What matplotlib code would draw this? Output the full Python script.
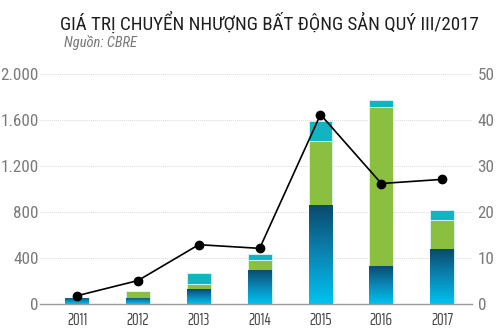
import matplotlib
matplotlib.use("Agg")
import matplotlib.pyplot as plt
import numpy as np
from matplotlib.colors import LinearSegmentedColormap

years = ["2011", "2012", "2013", "2014", "2015", "2016", "2017"]
blue_vals = [55, 55, 130, 298, 858, 333, 475]
green_vals = [0, 55, 44, 85, 559, 1377, 255]
cyan_vals = [0, 0, 93, 49, 174, 64, 87]
line_vals = [1.8, 5.1, 12.9, 12.1, 41.2, 26.2, 27.1]
left_ticks = [0, 400, 800, 1200, 1600, 2000]
left_labels = ["0", "400", "800", "1.200", "1.600", "2.000"]
right_ticks = [0, 10, 20, 30, 40, 50]
right_labels = ["0", "10", "20", "30", "40", "50"]

FONT = ["Roboto Condensed", "DejaVu Sans"]
XFONT = ["Saira ExtraCondensed", "Roboto Condensed", "DejaVu Sans"]
plt.rcParams['font.family'] = FONT

fig = plt.figure(figsize=(5.0, 3.32), dpi=100)
ax = fig.add_axes([0.08, 0.0843, 0.864, 0.6927])
x = np.arange(len(years))
w = 0.39

green_c = "#8bbf3f"
cyan_c = "#12b4bf"
edge_c = "#dff5fa"

bars_b = ax.bar(x, blue_vals, w, color="#0a8fc0", edgecolor=edge_c, linewidth=0.6, zorder=2)
bottom2 = np.array(blue_vals)
ax.bar(x, green_vals, w, bottom=bottom2, color=green_c, edgecolor=edge_c, linewidth=0.6, zorder=2)
bottom3 = bottom2 + np.array(green_vals)
ax.bar(x, cyan_vals, w, bottom=bottom3, color=cyan_c, edgecolor=edge_c, linewidth=0.6, zorder=2)

cmap = LinearSegmentedColormap.from_list("bl", ["#00c3f0", "#0a86b4", "#0a4a6c"])
grad = np.linspace(0, 1, 256).reshape(-1, 1)
for b in bars_b:
    x0, y0 = b.get_x(), b.get_y()
    bw, bh = b.get_width(), b.get_height()
    im = ax.imshow(grad, cmap=cmap, origin="lower", aspect="auto",
                   extent=[x0, x0 + bw, y0, y0 + bh], zorder=2.5, interpolation="bilinear")
    im.set_clip_path(b)

ax.set_xlim(-0.61, 6.49)
ax.set_ylim(0, 2000)
ax.set_yticks(left_ticks)
ax.set_yticklabels(left_labels)
ax.set_xticks(x)
ax.set_xticklabels(years, family=XFONT)
ax.grid(axis="y", color="#d9d9d9", linewidth=0.7, linestyle=(0, (1, 1)), zorder=0)
for s in ["top", "right", "left"]:
    ax.spines[s].set_visible(False)
ax.spines["bottom"].set_color("#999999")
ax.spines["bottom"].set_linewidth(1.0)
ax.tick_params(axis="y", length=0, pad=1, labelsize=12.3, labelcolor="#7a7a7a")
ax.tick_params(axis="x", length=0, pad=6, labelsize=12, labelcolor="#444444")

ax2 = ax.twinx()
ax2.set_ylim(0, 50)
ax2.set_yticks(right_ticks)
ax2.set_yticklabels(right_labels)
for s in ["top", "right", "left", "bottom"]:
    ax2.spines[s].set_visible(False)
ax2.tick_params(axis="y", length=0, pad=4, labelsize=12.3, labelcolor="#7a7a7a")
ax2.plot(x, line_vals, color="black", linewidth=1.2, marker="o", markersize=6, zorder=5)

title = fig.text(0.12, 0.9096, "GIÁ TRỊ CHUYỂN NHƯỢNG BẤT ĐỘNG SẢN QUÝ III/2017",
                 fontsize=14, color="#1e1e1e", va="baseline", ha="left")
sub = fig.text(0.128, 0.858, "Nguồn: CBRE", fontsize=10, color="#777777", style="italic",
               va="baseline", ha="left")

renderer = fig.canvas.get_renderer()
for t, target in [(title, 423.0), (sub, 73.0)]:
    wpx = t.get_window_extent(renderer).width
    t.set_fontsize(t.get_fontsize() * target / wpx)

fig.savefig("out.png", dpi=100)
